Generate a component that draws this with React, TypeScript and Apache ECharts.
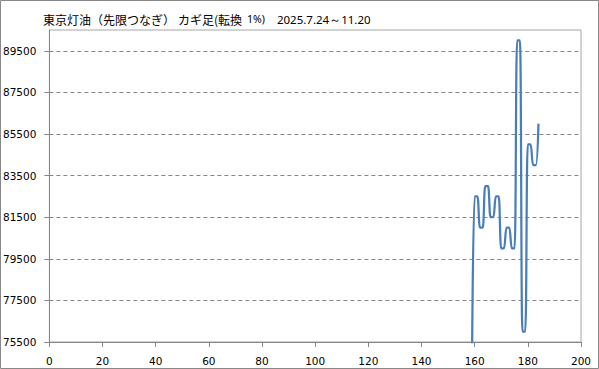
import React, { useEffect, useRef } from 'react';
import * as echarts from 'echarts';

const titleMain = '東京灯油（先限つなぎ）';
const titleKind = 'カギ足(転換';
const titleRate = '1%)';
const titlePeriod = '2025.7.24～11.20';

// x index of the first plotted kagi point (its value lies below the axis minimum)
const startIndex = 159;
const kagiValues = [
  74500, 82500, 82500, 81000, 81000, 83000, 83000, 81500, 81500, 82500, 82500,
  80000, 80000, 81000, 81000, 80000, 80000, 90000, 90000, 76000, 76000,
  85000, 85000, 84000, 84000, 86000,
];
const yTicks = [75500, 77500, 79500, 81500, 83500, 85500, 87500, 89500];
const xMin = 0;
const xMax = 200;
const xStep = 20;
const yMin = 75500;
const yMax = 90500;

export default function App() {
  const ref = useRef<HTMLDivElement>(null);
  useEffect(() => {
    if (!ref.current) return;
    const chart = echarts.init(ref.current, null, { renderer: 'svg' });
    const data = kagiValues.map((v, i) => [startIndex + i, v]);
    const labelFont = "'DejaVu Sans', sans-serif";
    const cjk = "'Noto Sans CJK JP', sans-serif";
    chart.setOption({
      animation: false,
      backgroundColor: '#ffffff',
      title: {
        left: 43,
        top: 11,
        padding: 0,
        text: `{a|${titleMain}}{k|${titleKind}}{b|${titleRate}}{c|${titlePeriod}}`,
        textStyle: {
          fontWeight: 'normal',
          rich: {
            a: { fontFamily: cjk, fontSize: 12, color: '#000', lineHeight: 16, fontWeight: 'normal' },
            k: { fontFamily: cjk, fontSize: 12, color: '#000', lineHeight: 16, fontWeight: 'normal', padding: [0, 0, 0, 3] },
            b: { fontFamily: "'Noto Sans', sans-serif", fontSize: 10.5, color: '#000', lineHeight: 16, fontWeight: 'normal', padding: [0, 0, 0, 5] },
            c: { fontFamily: "'Noto Sans', sans-serif", fontSize: 11.5, color: '#000', lineHeight: 16, fontWeight: 'normal', padding: [0, 0, 0, 12] },
          },
        },
      },
      graphic: [
        {
          type: 'rect',
          shape: { x: 0.5, y: 0.5, width: 598, height: 368 },
          style: { fill: 'none', stroke: '#888888', lineWidth: 1 },
          silent: true,
        },
      ],
      grid: {
        left: 49,
        top: 30,
        right: 18,
        bottom: 27,
        show: true,
        borderColor: '#a6a6a6',
        borderWidth: 1,
        containLabel: false,
      },
      xAxis: {
        type: 'value',
        min: xMin,
        max: xMax,
        interval: xStep,
        axisLine: { show: true, lineStyle: { color: '#868686', width: 1 } },
        axisTick: { show: true, inside: false, length: 5, lineStyle: { color: '#868686' } },
        axisLabel: { color: '#000', fontSize: 10.5, fontFamily: labelFont, margin: 13 },
        splitLine: { show: false },
      },
      yAxis: {
        type: 'value',
        min: yMin,
        max: yMax,
        axisLine: { show: true, lineStyle: { color: '#868686', width: 1 } },
        axisTick: {
          show: true,
          inside: false,
          length: 5,
          customValues: yTicks,
          lineStyle: { color: '#868686' },
        },
        axisLabel: {
          color: '#000',
          fontSize: 10.5,
          fontFamily: labelFont,
          margin: 13,
          customValues: yTicks,
          formatter: (v: number) => String(v),
        },
        splitLine: {
          show: true,
          lineStyle: { color: '#868686', type: [4, 3], width: 1 },
        },
      },
      series: [
        {
          type: 'line',
          data,
          smooth: 0.3,
          showSymbol: false,
          clip: true,
          lineStyle: { color: '#4a7ebb', width: 2.25 },
        },
      ],
    });
    return () => chart.dispose();
  }, []);
  return (
    <div
      ref={ref}
      style={{ position: 'fixed', left: 0, top: 0, width: 599, height: 369 }}
    />
  );
}
